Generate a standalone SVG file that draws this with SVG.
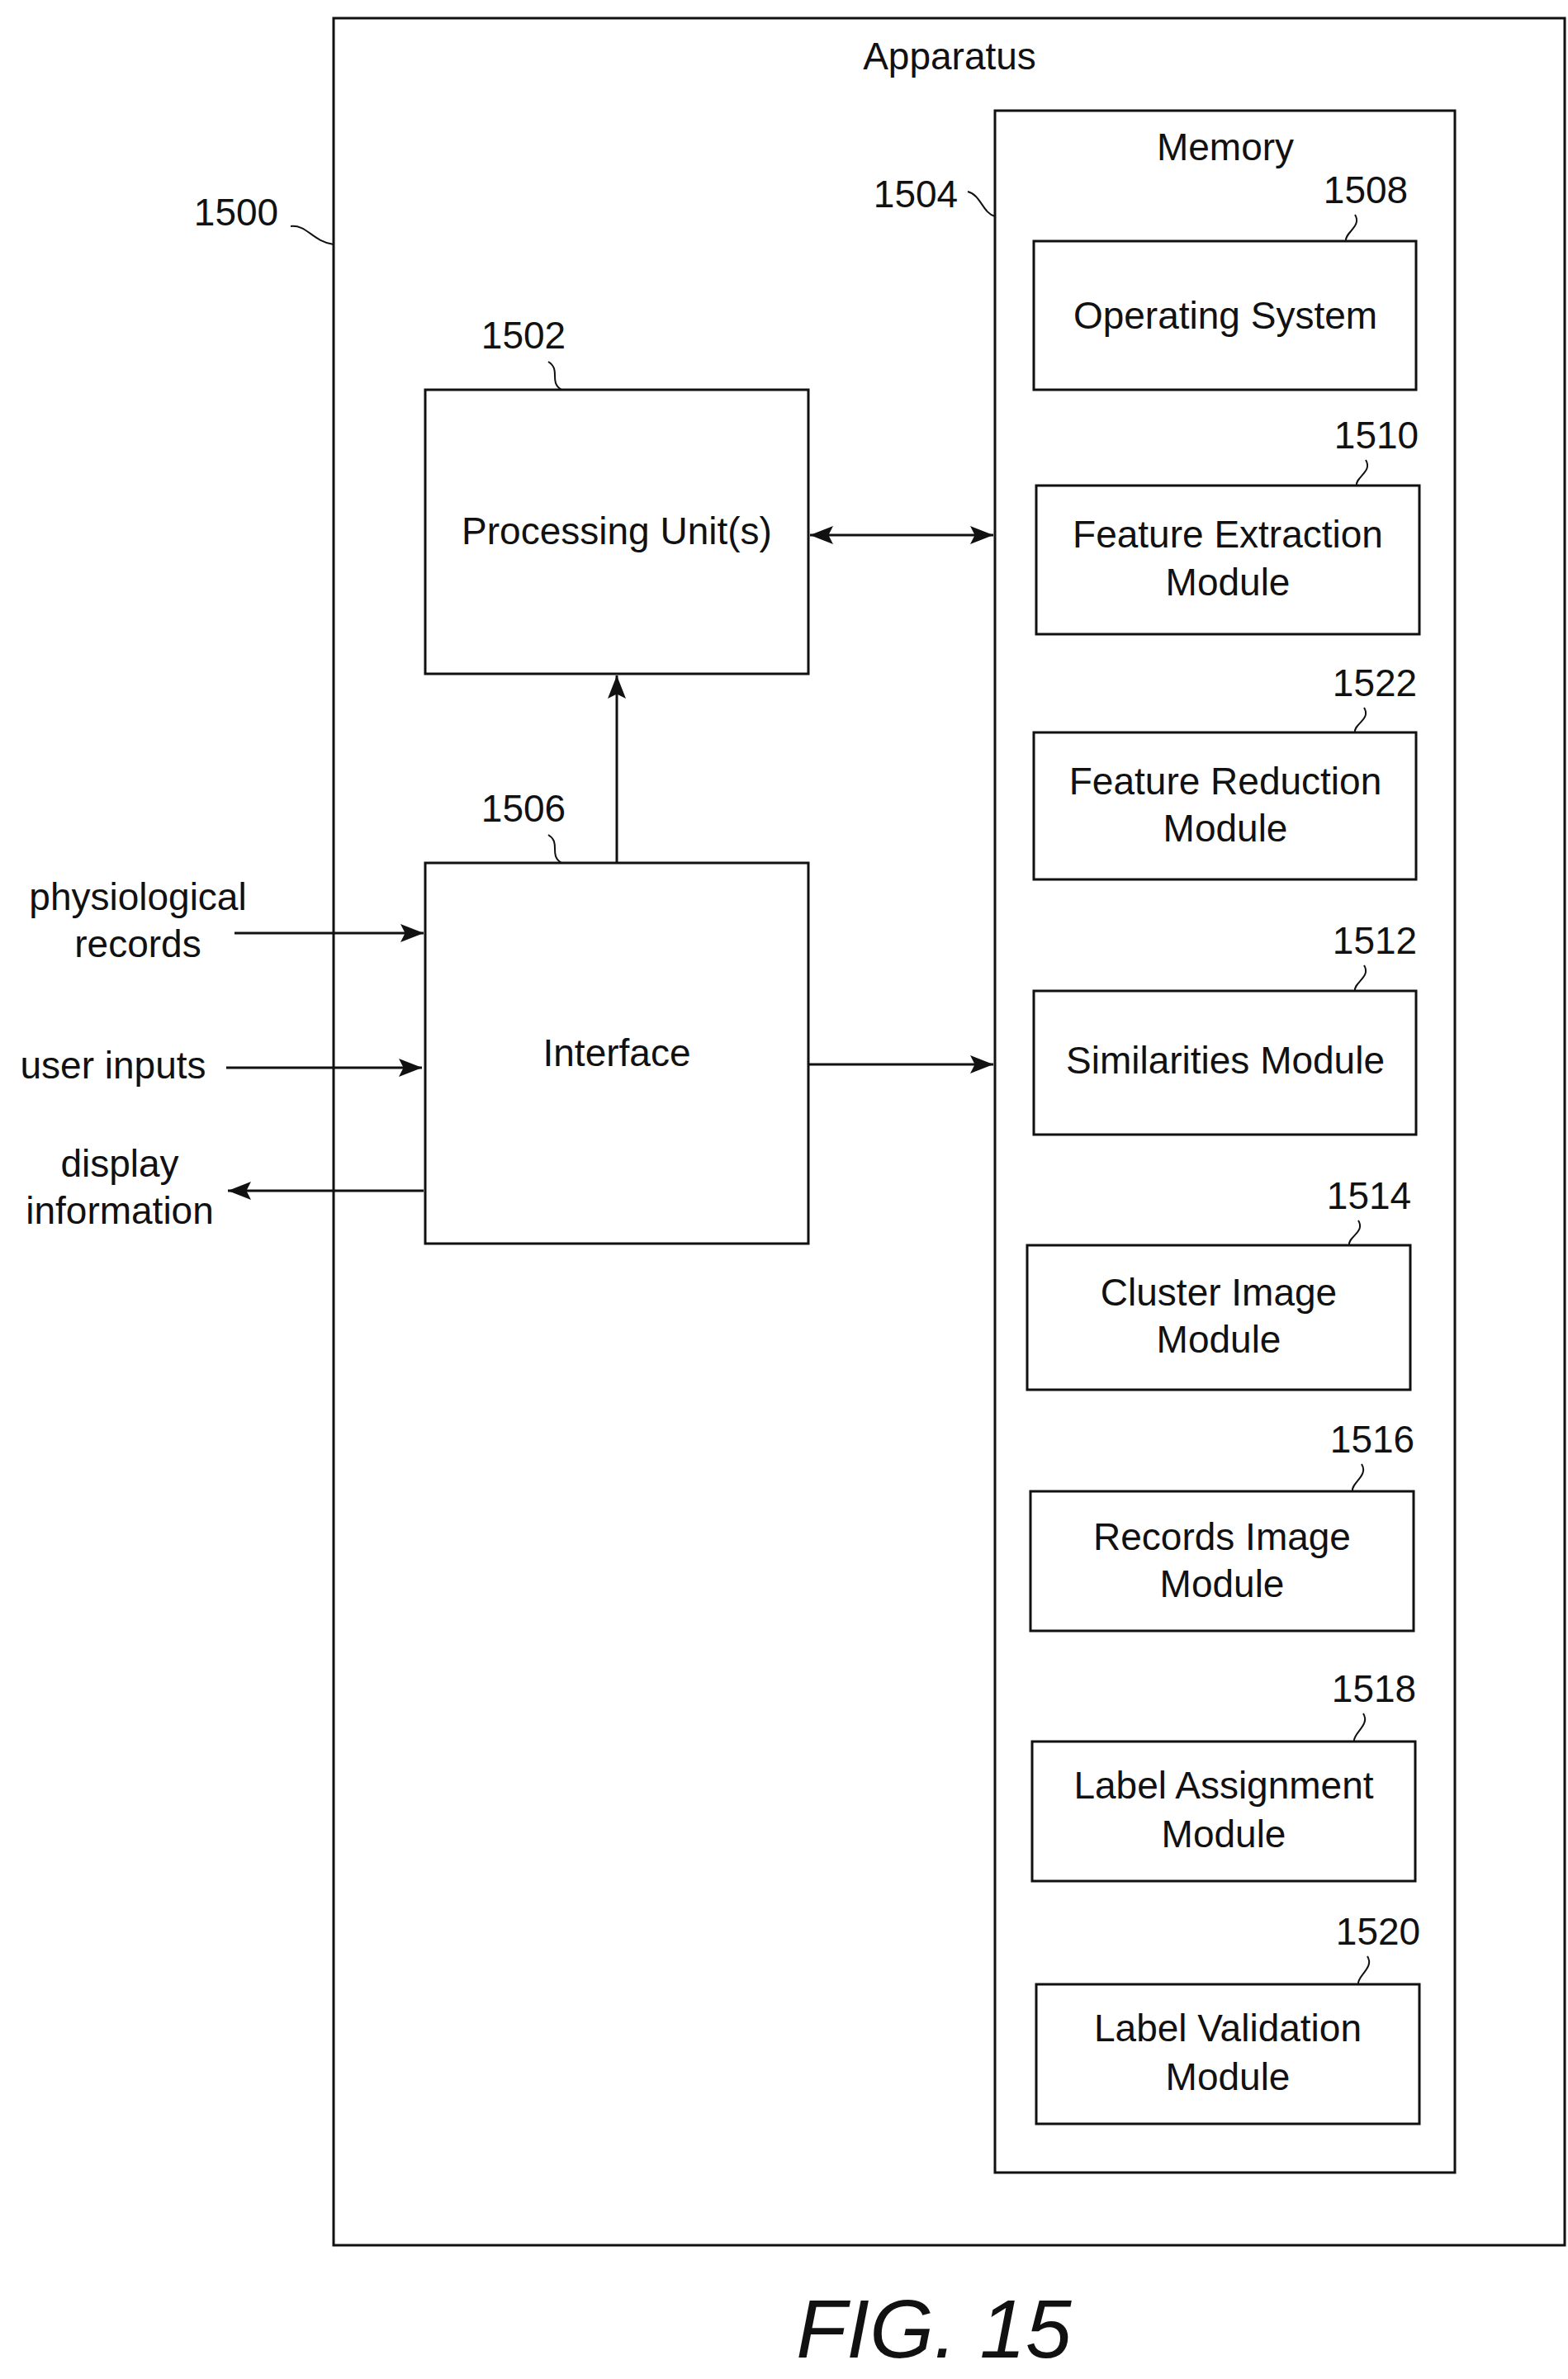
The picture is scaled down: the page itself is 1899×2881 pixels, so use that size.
<svg xmlns="http://www.w3.org/2000/svg" width="1899" height="2881" viewBox="0 0 1899 2881">
<style>
text{font-family:"Liberation Sans",Arial,sans-serif;font-size:46px;fill:#111;text-anchor:middle}
.b{fill:#fff;stroke:#111;stroke-width:3}
.l{fill:none;stroke:#111;stroke-width:3}
.ld{fill:none;stroke:#111;stroke-width:2}
.fig{font-style:italic;font-size:100px}
</style>
<defs>
<marker id="a" viewBox="0 0 10 10" refX="10" refY="5" markerWidth="28" markerHeight="22" markerUnits="userSpaceOnUse" orient="auto-start-reverse" preserveAspectRatio="none">
<path d="M0,0 L10,5 L0,10 L2,5 Z" fill="#111"/>
</marker>
</defs>
<rect width="1899" height="2881" fill="#fff"/>
<g id="apparatus">
<rect class="b" x="404" y="22" width="1491" height="2697"/>
<text x="1150" y="84">Apparatus</text>
<text x="286" y="273">1500</text>
<path class="ld" d="M352,274 C372,272 378,292 404,296"/>
</g>
<g id="memory">
<rect class="b" x="1205" y="134" width="557" height="2497"/>
<text x="1484" y="194">Memory</text>
<text x="1109" y="251">1504</text>
<path class="ld" d="M1172,232 C1188,236 1190,258 1205,262"/>
</g>
<g id="processing">
<rect class="b" x="515" y="472" width="464" height="344"/>
<text x="747" y="659">Processing Unit(s)</text>
<text x="634" y="422">1502</text>
<path class="ld" d="M664,438 C680,448 664,462 680,472"/>
</g>
<g id="interface">
<rect class="b" x="515" y="1045" width="464" height="461"/>
<text x="747" y="1291">Interface</text>
<text x="634" y="995">1506</text>
<path class="ld" d="M664,1011 C680,1021 664,1035 680,1045"/>
</g>
<g id="os">
<rect class="b" x="1252" y="292" width="463" height="180"/>
<text x="1484" y="398">Operating System</text>
<text x="1654" y="246">1508</text>
<path class="ld" d="M1641,260 C1650,274 1628,282 1630,292"/>
</g>
<g id="fe">
<rect class="b" x="1255" y="588" width="464" height="180"/>
<text x="1487" y="663">Feature Extraction</text>
<text x="1487" y="721">Module</text>
<text x="1667" y="543">1510</text>
<path class="ld" d="M1654,557 C1663,571 1641,578 1643,588"/>
</g>
<g id="fr">
<rect class="b" x="1252" y="887" width="463" height="178"/>
<text x="1484" y="962">Feature Reduction</text>
<text x="1484" y="1019">Module</text>
<text x="1665" y="843">1522</text>
<path class="ld" d="M1652,857 C1661,871 1639,877 1641,887"/>
</g>
<g id="sim">
<rect class="b" x="1252" y="1200" width="463" height="174"/>
<text x="1484" y="1300">Similarities Module</text>
<text x="1665" y="1155">1512</text>
<path class="ld" d="M1652,1169 C1661,1183 1639,1190 1641,1200"/>
</g>
<g id="cluster">
<rect class="b" x="1244" y="1508" width="464" height="175"/>
<text x="1476" y="1581">Cluster Image</text>
<text x="1476" y="1638">Module</text>
<text x="1658" y="1464">1514</text>
<path class="ld" d="M1645,1478 C1654,1492 1632,1498 1634,1508"/>
</g>
<g id="records">
<rect class="b" x="1248" y="1806" width="464" height="169"/>
<text x="1480" y="1877">Records Image</text>
<text x="1480" y="1934">Module</text>
<text x="1662" y="1759">1516</text>
<path class="ld" d="M1649,1773 C1658,1787 1636,1796 1638,1806"/>
</g>
<g id="la">
<rect class="b" x="1250" y="2109" width="464" height="169"/>
<text x="1482" y="2178">Label Assignment</text>
<text x="1482" y="2237">Module</text>
<text x="1664" y="2061">1518</text>
<path class="ld" d="M1651,2075 C1660,2089 1638,2099 1640,2109"/>
</g>
<g id="lv">
<rect class="b" x="1255" y="2403" width="464" height="169"/>
<text x="1487" y="2472">Label Validation</text>
<text x="1487" y="2531">Module</text>
<text x="1669" y="2355">1520</text>
<path class="ld" d="M1656,2369 C1665,2383 1643,2393 1645,2403"/>
</g>
<g id="ext-labels">
<text x="167" y="1102">physiological</text>
<text x="167" y="1159">records</text>
<text x="137" y="1306">user inputs</text>
<text x="145" y="1425">display</text>
<text x="145" y="1482">information</text>
</g>
<g id="connectors">
<line class="l" x1="981" y1="648" x2="1203" y2="648" marker-start="url(#a)" marker-end="url(#a)"/>
<line class="l" x1="747" y1="1045" x2="747" y2="818" marker-end="url(#a)"/>
<line class="l" x1="979" y1="1289" x2="1203" y2="1289" marker-end="url(#a)"/>
<line class="l" x1="284" y1="1130" x2="513" y2="1130" marker-end="url(#a)"/>
<line class="l" x1="274" y1="1293" x2="511" y2="1293" marker-end="url(#a)"/>
<line class="l" x1="513" y1="1442" x2="276" y2="1442" marker-end="url(#a)"/>
</g>
<text class="fig" x="1131" y="2855">FIG. 15</text>
</svg>
